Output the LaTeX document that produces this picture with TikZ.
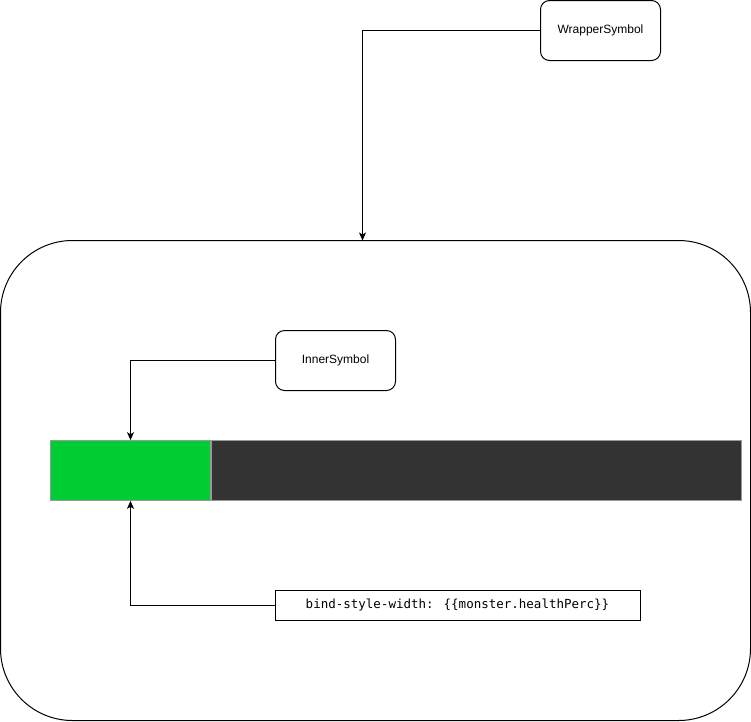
\documentclass[tikz,border=0pt]{standalone}
\usepackage{fontspec}
\setmainfont{Liberation Sans}
\newfontfamily\codefont{DejaVu Sans Mono}
\usetikzlibrary{positioning,arrows.meta}
\definecolor{healthgreen}{HTML}{00CC33}
\definecolor{bardark}{HTML}{333333}
\definecolor{barline}{HTML}{999999}

\begin{document}
\begin{tikzpicture}[x=1pt, y=-1pt, >={Stealth[length=8pt,width=7pt,inset=2pt]}, line width=1pt,
  symbol/.style={draw, rounded corners=9pt, minimum width=120pt, minimum height=60pt,
    font=\fontsize{12}{14}\selectfont},
  barpart/.style={draw=barline, line width=0.6pt, minimum height=60pt, inner sep=0pt}]
  \useasboundingbox (0,0) rectangle (751,721);
  % conteneur externe
  \node[draw, rounded corners=72pt, minimum width=750pt, minimum height=480pt] (container) at (375.5,480.5) {};
  % symboles
  \node[symbol] (wrapper) at (600.5,30.5) {WrapperSymbol};
  \node[symbol] (inner) at (335.5,360.5) {InnerSymbol};
  % barre de vie
  \node[barpart, fill=healthgreen, minimum width=160pt] (health) at (130.5,470.5) {};
  \node[barpart, fill=bardark, minimum width=530pt, anchor=west] (rest) at (health.east) {};
  % liaison
  \node[draw, minimum width=365pt, minimum height=30pt, inner sep=0pt,
    font=\codefont\fontsize{12.5}{14}\selectfont] (binding) at (457.5,605.5)
    {bind-style-width: \{\{monster.healthPerc\}\}};
  % flèches
  \coordinate (wrapin) at (362.5,240.5);
  \draw[->] (wrapper.west) -| (wrapin);
  \draw[->] (inner.west) -| (health.north);
  \draw[->] (binding.west) -| (health.south);
\end{tikzpicture}
\end{document}
